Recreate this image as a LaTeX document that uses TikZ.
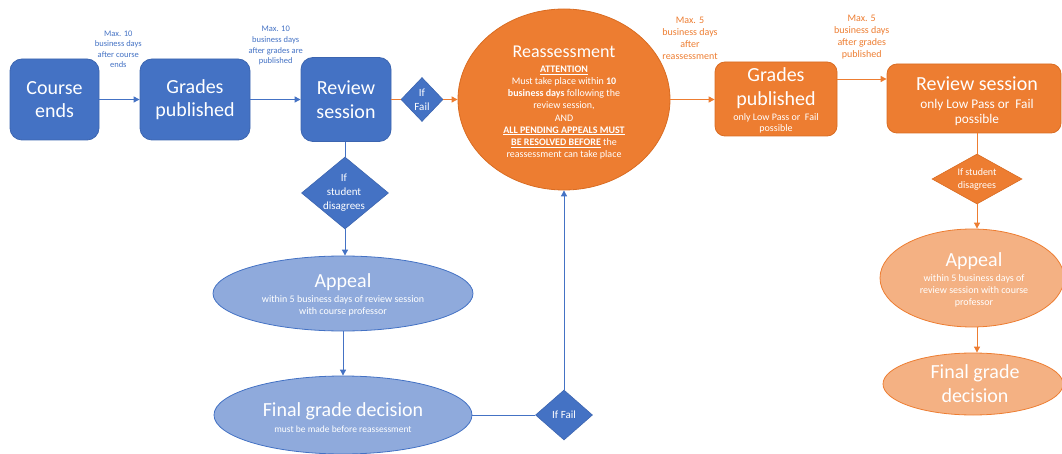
\documentclass[tikz,border=0pt]{standalone}
\usepackage{fontspec}
\setmainfont{Carlito}
\usetikzlibrary{shapes.geometric,arrows.meta,calc}
\definecolor{dblue}{HTML}{4472C4}
\definecolor{dbluebd}{HTML}{3C65B0}
\definecolor{lblue}{HTML}{8FAADC}
\definecolor{dorange}{HTML}{ED7D31}
\definecolor{dorangebd}{HTML}{D96C22}
\definecolor{lorange}{HTML}{F4B183}
\begin{document}
\begin{tikzpicture}[x=1pt,y=-1pt,
  bluebox/.style={rectangle,rounded corners=12pt,fill=dblue,draw=dbluebd,line width=0.8pt,text=white,align=center,inner sep=0pt,font=\fontsize{20}{23.5}\selectfont},
  orangebox/.style={rectangle,rounded corners=10pt,fill=dorange,draw=dorangebd,line width=0.8pt,inner sep=0pt},
  bdiam/.style={diamond,fill=dblue,draw=dbluebd,line width=0.6pt,inner sep=0pt},
  odiam/.style={diamond,fill=dorange,draw=dorangebd,line width=0.6pt,inner sep=0pt},
  lbell/.style={ellipse,fill=lblue,draw=dblue,line width=0.8pt,inner sep=0pt},
  loell/.style={ellipse,fill=lorange,draw=dorange,line width=0.8pt,inner sep=0pt},
  wtxt/.style={text=white,align=center,inner sep=0pt},
  big/.style={font=\fontsize{20}{24}\selectfont},
  bline/.style={draw=dblue,line width=0.9pt},
  oline/.style={draw=dorange,line width=0.9pt},
  tip/.style={-{Triangle[length=6pt,width=6pt]}},
  blab/.style={text=dblue,align=center,inner sep=0pt,font=\fontsize{8.5}{10.6}\selectfont},
  olab/.style={text=dorange,align=center,inner sep=0pt,font=\fontsize{10}{11.9}\selectfont}
]
\useasboundingbox (0,0) rectangle (1062,454);

% top row, blue
\node[bluebox,minimum width=89pt,minimum height=81pt] (ce) at (54.5,99.5) {Course\\ends};
\node[bluebox,minimum width=110pt,minimum height=81pt] (gp) at (195,99.5) {Grades\\published};
\node[bluebox,minimum width=90pt,minimum height=84pt] (rs) at (346,99.5) {Review\\session};
\node[blab] (l1) at (118.3,49.2) {Max. 10\\business days\\after course\\ends};
\node[blab] (l2) at (275.7,45.8) {Max. 10\\business days\\after grades are\\published};

\node[bdiam,minimum width=42pt,minimum height=44pt] (if1) at (422,99.5) {};
\node[wtxt,font=\fontsize{11}{14}\selectfont] (if1t) at (422,99.5) {If\\Fail};

% reassessment
\node[ellipse,fill=dorange,draw=dorangebd,line width=0.8pt,inner sep=0pt,minimum width=212pt,minimum height=181pt] (re) at (564,99.5) {};
\node[wtxt,font=\fontsize{18}{22}\selectfont] (ret) at (564,52) {Reassessment};
\node[wtxt,font=\fontsize{10}{12.15}\selectfont] (reb) at (564,112.5) {\underline{\textbf{ATTENTION}}\\
Must take place within \textbf{10}\\
\textbf{business days} following the\\
review session,\\
AND\\
\underline{\textbf{ALL PENDING APPEALS MUST}}\\
\underline{\textbf{BE RESOLVED BEFORE}} the\\
reassessment can take place};

% right part, orange
\node[orangebox,minimum width=122pt,minimum height=74pt] (gp2) at (776,99) {};
\node[wtxt,big] (gp2t) at (776,88) {Grades\\published};
\node[wtxt,font=\fontsize{10}{11}\selectfont] (gp2s) at (776,123.5) {only Low Pass or\ \ Fail\\possible};
\node[olab] (l3) at (690,38.5) {Max. 5\\business days\\after\\reassessment};
\node[olab] (l4) at (861.7,37) {Max. 5\\business days\\after grades\\published};

\node[orangebox,minimum width=174pt,minimum height=69pt] (rv2) at (974,98.5) {};
\node[wtxt,big] (rv2t) at (977,84) {Review session};
\node[wtxt,font=\fontsize{13.3}{15}\selectfont] (rv2s) at (977,112.5) {only Low Pass or\ \ Fail\\possible};

\node[odiam,minimum width=90pt,minimum height=50pt] (d2) at (977,179) {};
\node[wtxt,font=\fontsize{10}{12.5}\selectfont] (d2t) at (977,179.5) {If student\\disagrees};

\node[loell,minimum width=184pt,minimum height=98pt] (ap2) at (972,278) {};
\node[wtxt,big] (ap2t) at (974,261.5) {Appeal};
\node[wtxt,font=\fontsize{10}{11.9}\selectfont] (ap2s) at (974,291) {within 5 business days of\\review session with course\\professor};

\node[loell,minimum width=180pt,minimum height=62pt] (fg2) at (973,384) {};
\node[wtxt,big] (fg2t) at (975,384) {Final grade\\decision};

% lower blue
\node[bdiam,minimum width=87pt,minimum height=72pt] (d1) at (345,193) {};
\node[wtxt,font=\fontsize{11}{14}\selectfont] (d1t) at (344,193) {If\\student\\disagrees};

\node[lbell,minimum width=260pt,minimum height=75pt] (ap1) at (343,293.5) {};
\node[wtxt,big] (ap1t) at (343,281.7) {Appeal};
\node[wtxt,font=\fontsize{10}{11.7}\selectfont] (ap1s) at (343,306) {within 5 business days of review session\\with course professor};

\node[lbell,minimum width=258pt,minimum height=78pt] (fg1) at (343,415) {};
\node[wtxt,big] (fg1t) at (343,411.7) {Final grade decision};
\node[wtxt,font=\fontsize{9.5}{11}\selectfont] (fg1s) at (343,429) {must be made before reassessment};

\node[bdiam,minimum width=57pt,minimum height=50pt] (if3) at (564,415) {};
\node[wtxt,font=\fontsize{11}{13}\selectfont] (if3t) at (564,415) {If Fail};

% connectors
\draw[bline,tip] (ce.east) -- (gp.west);
\draw[bline,tip] (gp.east) -- (rs.west);
\draw[oline] (rs.east) -- (if1.west);
\draw[oline,tip] (if1.east) -- (re.west);
\draw[oline,tip] (re.east) -- (re.east -| gp2.west);
\draw[oline,tip] ([yshift=20pt]gp2.east) -- ([yshift=20pt]gp2.east -| rv2.west);
\draw[oline] (d2 |- rv2.south) -- (d2.north);
\draw[oline,tip] (d2.south) -- (d2.south |- ap2.north);
\draw[oline,tip] (ap2.south -| d2) -- (d2 |- fg2.north);

\draw[bline] (d1 |- rs.south) -- (d1.north);
\draw[bline,tip] (d1.south) -- (d1.south |- ap1.north);
\draw[bline,tip] (ap1.south) -- (fg1.north);
\draw[bline] (fg1.east) -- (if3.west);
\draw[bline,tip] (if3.north) -- (re.south);
\end{tikzpicture}
\end{document}
